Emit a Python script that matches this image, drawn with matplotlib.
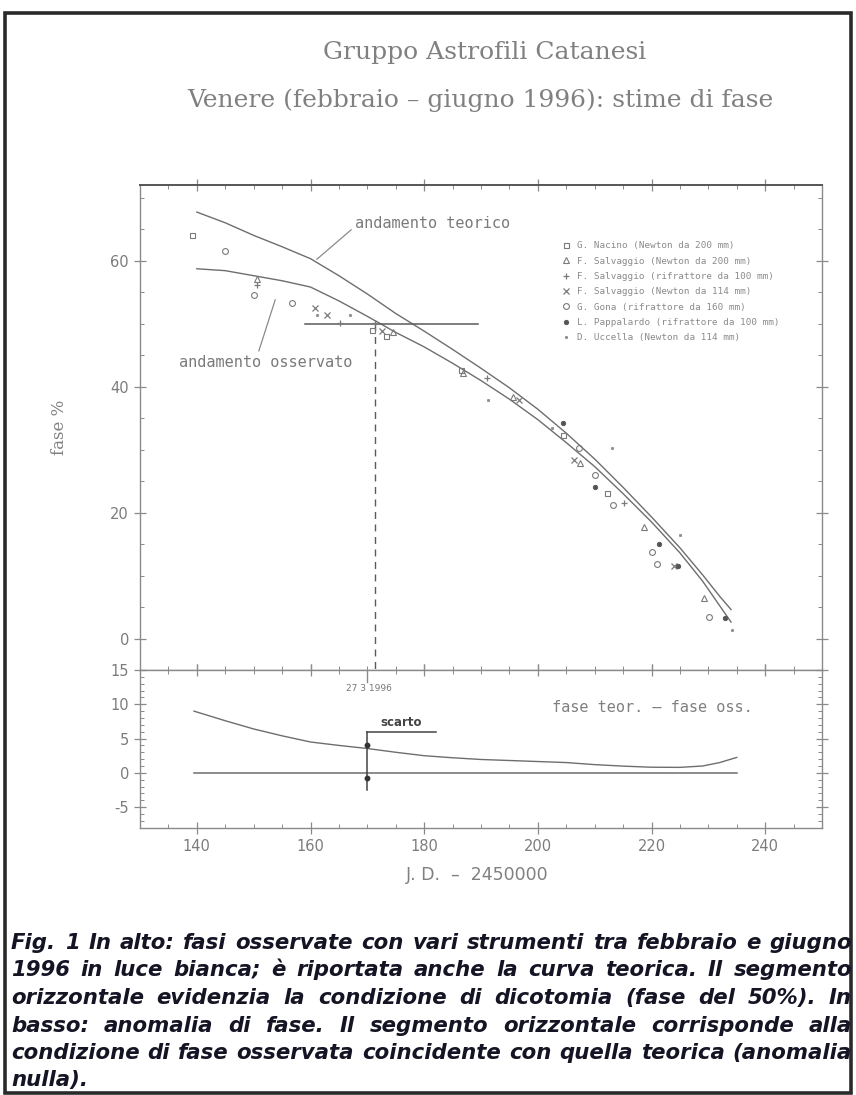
import matplotlib
matplotlib.use("Agg")
import matplotlib.pyplot as plt
from matplotlib.patches import Rectangle
from matplotlib.ticker import MultipleLocator
from matplotlib.lines import Line2D

plt.rcParams["axes.unicode_minus"] = False

# ---------------- data ----------------
x_curve = [140, 145, 150, 155, 160, 165, 170, 175, 180, 185, 190, 195, 200,
           205, 210, 215, 220, 225, 229, 232, 234]
fase_teorica = [67.7, 66.0, 64.0, 62.2, 60.3, 57.6, 54.7, 51.6, 48.8, 45.9, 42.9,
                39.8, 36.4, 32.6, 28.5, 24.0, 19.3, 14.4, 10.1, 6.7, 4.6]
fase_osservata = [58.7, 58.4, 57.6, 56.8, 55.8, 53.6, 51.15, 48.6, 46.3, 43.7, 40.95,
                  38.0, 34.75, 31.1, 27.3, 23.0, 18.5, 13.6, 9.1, 5.2, 2.6]

x_diff = [139.5, 145, 150, 155, 160, 165, 170, 175, 180, 185, 190, 195, 200,
          205, 210, 215, 220, 225, 229, 232, 235]
diff_fase = [9.0, 7.6, 6.4, 5.4, 4.5, 4.0, 3.55, 3.0, 2.5, 2.2, 1.95, 1.8, 1.65,
             1.5, 1.2, 0.98, 0.82, 0.8, 1.0, 1.5, 2.25]

osservatori = [
    "G. Nacino (Newton da 200 mm)",
    "F. Salvaggio (Newton da 200 mm)",
    "F. Salvaggio (rifrattore da 100 mm)",
    "F. Salvaggio (Newton da 114 mm)",
    "G. Gona (rifrattore da 160 mm)",
    "L. Pappalardo (rifrattore da 100 mm)",
    "D. Uccella (Newton da 114 mm)",
]
obs_x = [
    [139.1, 170.8, 173.2, 186.4, 204.5, 212.2],
    [150.5, 174.6, 186.9, 195.7, 207.5, 218.6, 229.2],
    [150.5, 165.2, 171.4, 191.1, 215.1],
    [160.8, 162.9, 172.6, 196.6, 206.3, 223.9],
    [145.0, 150.0, 156.7, 207.2, 210.1, 213.3, 220.1, 221.0, 230.1],
    [204.5, 210.1, 221.3, 224.6, 233.0],
    [161.1, 167.0, 191.3, 202.5, 213.1, 225.1, 234.2],
]
obs_y = [
    [64.1, 49.0, 48.0, 42.7, 32.3, 23.1],
    [57.1, 48.6, 42.1, 38.4, 27.8, 17.7, 6.5],
    [56.2, 50.1, 50.1, 41.3, 21.5],
    [52.5, 51.4, 48.8, 37.9, 28.4, 11.5],
    [61.6, 54.6, 53.2, 30.2, 26.0, 21.2, 13.8, 11.9, 3.4],
    [34.2, 24.1, 15.0, 11.5, 3.3],
    [51.4, 51.4, 37.9, 33.4, 30.2, 16.4, 1.4],
]
marker_styles = [
    dict(marker="s", ms=3.6, mfc="none", mec="#7a7a7a", mew=0.8),
    dict(marker="^", ms=4.0, mfc="none", mec="#7a7a7a", mew=0.8),
    dict(marker="+", ms=4.5, mfc="none", mec="#7a7a7a", mew=0.9),
    dict(marker="x", ms=3.8, mfc="none", mec="#7a7a7a", mew=0.9),
    dict(marker="o", ms=4.2, mfc="none", mec="#7a7a7a", mew=0.8),
    dict(marker="o", ms=3.2, mfc="#555555", mec="#555555", mew=0.6),
    dict(marker=".", ms=3.5, mfc="#8a8a8a", mec="#8a8a8a", mew=0.5),
]

data_dicotomia = 171.4
data_scarto = 170.0
scarto_sup, scarto_inf = 4.0, -0.8

title1 = "Gruppo Astrofili Catanesi"
title2 = "Venere (febbraio \u2013 giugno 1996): stime di fase"
caption_lines = [
    "Fig. 1 In alto: fasi osservate con vari strumenti tra febbraio e giugno",
    "1996 in luce bianca; \u00e8 riportata anche la curva teorica. Il segmento",
    "orizzontale evidenzia la condizione di dicotomia (fase del 50%). In",
    "basso: anomalia di fase. Il segmento orizzontale corrisponde alla",
    "condizione di fase osservata coincidente con quella teorica (anomalia",
    "nulla).",
]

# ---------------- figure ----------------
W, H = 856, 1095
fig = plt.figure(figsize=(W / 100, H / 100), dpi=100)
fig.patch.set_facecolor("white")

GRAY_TXT = "#7c7c7c"
GRAY_AX = "#8a8a8a"
LINE_C = "#6e6e6e"

def fx(px):
    return px / W

def fy(py):
    return 1 - py / H

ax_left, ax_right = 140, 822
ax_u = fig.add_axes([fx(ax_left), fy(670), fx(ax_right - ax_left), (670 - 185) / H])
ax_l = fig.add_axes([fx(ax_left), fy(827.7), fx(ax_right - ax_left), (827.7 - 670) / H])

for ax in (ax_u, ax_l):
    ax.set_xlim(130, 250)
    for s in ax.spines.values():
        s.set_color(GRAY_AX)
        s.set_linewidth(1.0)
    ax.xaxis.set_major_locator(MultipleLocator(20))
    ax.xaxis.set_minor_locator(MultipleLocator(5))
    ax.tick_params(which="major", direction="inout", length=9, width=0.9,
                   color=GRAY_AX, labelcolor=GRAY_TXT, labelsize=10.5,
                   top=True, right=True)
    ax.tick_params(which="minor", direction="in", length=3, width=0.7,
                   color=GRAY_AX, top=True, right=True)

ax_u.spines["top"].set_color("#555555")
ax_u.spines["top"].set_linewidth(1.4)

# upper panel
ax_u.set_ylim(-5, 72)
ax_u.yaxis.set_major_locator(MultipleLocator(20))
ax_u.yaxis.set_minor_locator(MultipleLocator(5))
ax_u.tick_params(labelbottom=False)

ax_u.plot(x_curve, fase_teorica, color=LINE_C, lw=1.0)
ax_u.plot(x_curve, fase_osservata, color=LINE_C, lw=1.0)
ax_u.plot([159, 189.4], [50, 50], color="#5a5a5a", lw=1.1)
ax_u.plot([data_dicotomia, data_dicotomia], [50, -5], color="#5a5a5a",
          lw=1.0, ls=(0, (5, 4)))

handles = []
for xs, ys, st, lab in zip(obs_x, obs_y, marker_styles, osservatori):
    ax_u.plot(xs, ys, ls="none", zorder=3, **st)
    handles.append(Line2D([], [], ls="none", **st))

leg = ax_u.legend(handles, osservatori, loc="upper left",
                  bbox_to_anchor=(0.618, 0.884), frameon=False,
                  prop=dict(family="DejaVu Sans Mono", size=6.7),
                  labelspacing=0.68, handlelength=1.0, handletextpad=0.7,
                  borderaxespad=0, borderpad=0)
for t in leg.get_texts():
    t.set_color("#8a8a8a")

ax_u.annotate("andamento teorico", xy=(161.1, 60.2), xytext=(181.5, 65.9),
              ha="center", va="center", fontsize=11, family="DejaVu Sans Mono",
              color="#7a7a7a",
              arrowprops=dict(arrowstyle="-", color="#8a8a8a", lw=0.9,
                              relpos=(0.0, 0.3), shrinkA=1, shrinkB=0))
ax_u.annotate("andamento osservato", xy=(153.8, 53.8), xytext=(152.2, 43.8),
              ha="center", va="center", fontsize=11, family="DejaVu Sans Mono",
              color="#7a7a7a",
              arrowprops=dict(arrowstyle="-", color="#8a8a8a", lw=0.9,
                              relpos=(0.45, 1.0), shrinkA=1, shrinkB=0))

# lower panel
ax_l.set_ylim(-8, 15)
ax_l.yaxis.set_major_locator(MultipleLocator(5))
ax_l.yaxis.set_minor_locator(MultipleLocator(1))
ax_l.set_xticks([140, 160, 180, 200, 220, 240])
ax_l.plot(x_diff, diff_fase, color=LINE_C, lw=1.0)
ax_l.plot([x_diff[0], x_diff[-1]], [0, 0], color=LINE_C, lw=1.1)
ax_l.plot([data_scarto, data_scarto], [-2.5, 6], color="#444444", lw=1.1)
ax_l.plot([data_scarto, 182], [6, 6], color="#444444", lw=1.1)
ax_l.plot([data_scarto, data_scarto], [scarto_sup, scarto_inf], ls="none",
          marker="o", ms=3.2, color="#333333")
ax_l.plot([data_scarto, data_scarto], [13.3, 15], color=GRAY_AX, lw=1.0)
ax_l.text(176, 7.4, "scarto", ha="center", va="center", fontsize=8.5,
          fontweight="bold", color="#444444")
ax_l.text(170.3, 12.3, "27 3 1996", ha="center", va="center", fontsize=6.5,
          color="#777777")
ax_l.text(220.2, 9.6, "fase teor. \u2013 fase oss.", ha="center", va="center",
          fontsize=11, color="#808080", family="DejaVu Sans Mono")

# axis labels
fig.text(fx(60), fy(427), "fase %", rotation=90, ha="center", va="center",
         fontsize=12, color="#808080", family="DejaVu Serif")
fig.text(fx(477), fy(875), "J. D.  \u2013  2450000", ha="center", va="center",
         fontsize=12.5, color="#808080")

# titles
fig.text(fx(485), fy(53), title1, ha="center", va="center", fontsize=18,
         color="#808080", family="DejaVu Serif")
fig.text(fx(480), fy(100), title2, ha="center", va="center", fontsize=18,
         color="#808080", family="DejaVu Serif")

# frame
fig.add_artist(Rectangle((fx(5), fy(1093)), fx(851 - 5), (1093 - 13) / H,
                         transform=fig.transFigure, fill=False,
                         edgecolor="#2a2a2a", lw=2.6))

# caption (justified)
renderer = fig.canvas.get_renderer()
cap_left, cap_right = 11, 852
cap_y = [943, 970, 998, 1026, 1053, 1080]
cap_kw = dict(fontweight="bold", fontstyle="italic",
              family="DejaVu Sans", color="#141424", va="center", ha="left")
probe = [fig.text(0, 0, ln, fontsize=10, **cap_kw) for ln in caption_lines[:-1]]
nat = max(t.get_window_extent(renderer).width for t in probe)
for t in probe:
    t.remove()
cap_fs = 10 * (cap_right - cap_left - 4) / nat
cap_kw["fontsize"] = cap_fs
for i, (line, ypx) in enumerate(zip(caption_lines, cap_y)):
    if i == len(caption_lines) - 1:
        fig.text(fx(cap_left), fy(ypx), line, **cap_kw)
        continue
    words = line.split(" ")
    texts = [fig.text(0, fy(ypx), w, **cap_kw) for w in words]
    widths = [t.get_window_extent(renderer).width for t in texts]
    gap = (cap_right - cap_left - sum(widths)) / (len(words) - 1)
    xpos = cap_left
    for t, w in zip(texts, widths):
        t.set_x(fx(xpos))
        xpos += w + gap

fig.savefig("out.png", dpi=100)
